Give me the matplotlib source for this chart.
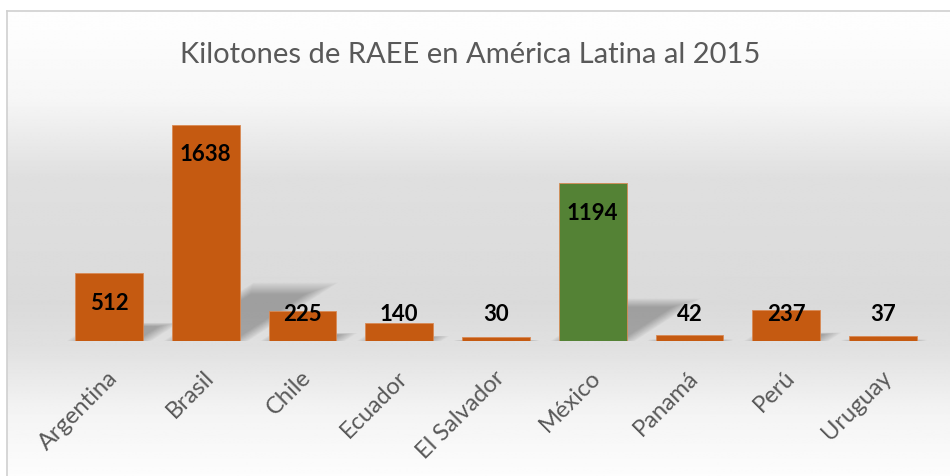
import numpy as np
import matplotlib
matplotlib.use("Agg")
import matplotlib.pyplot as plt
from matplotlib.lines import Line2D
import matplotlib.transforms as mtransforms

# ---- data ----
countries = ["Argentina", "Brasil", "Chile", "Ecuador", "El Salvador",
             "México", "Panamá", "Perú", "Uruguay"]
kilotons = [512, 1638, 225, 140, 30, 1194, 42, 237, 37]
highlight = "México"
title = "Kilotones de RAEE en América Latina al 2015"

ORANGE = "#C55A11"
GREEN = "#548235"
GREY_TXT = "#595959"

W, H = 950, 477
fig = plt.figure(figsize=(W / 100, H / 100), dpi=100)

# ---- background gradient (inside chart border) ----
bg = fig.add_axes([0, 0, 1, 1], zorder=-5)
bg.set_xlim(0, W)
bg.set_ylim(H, 0)
bg.axis("off")
stops_y = [12, 90, 170, 300, 345, 410, 477]
stops_v = [0.995, 0.965, 0.875, 0.855, 0.88, 0.955, 0.99]
ys = np.arange(H)
vals = np.interp(ys, stops_y, stops_v)
img = np.repeat(vals[:, None], 2, axis=1)
bg.imshow(img, cmap="gray", vmin=0, vmax=1, extent=[7, W, H, 12],
          aspect="auto", interpolation="bilinear")
bg.add_line(Line2D([7, W], [12, 12], color="#d0d0d0", lw=1.2))
bg.add_line(Line2D([7, 7], [12, H], color="#d0d0d0", lw=1.2))

# ---- main axes ----
left_px, right_px = 60.6, 931.4
base_px = 342
ymax = 1800
y_scale = 0.132
top_px = base_px - ymax * y_scale
ax = fig.add_axes([left_px / W, (H - base_px) / H,
                   (right_px - left_px) / W, (base_px - top_px) / H])
ax.set_facecolor("none")
ax.set_xlim(-0.5, len(countries) - 0.5)
ax.set_ylim(0, ymax)
for s in ax.spines.values():
    s.set_visible(False)
ax.tick_params(axis="y", left=False, labelleft=False)
ax.tick_params(axis="x", length=0, pad=14)

x = np.arange(len(countries))
bw = 0.70
colors = [GREEN if c == highlight else ORANGE for c in countries]

# perspective shadows (soft)
for i, v in zip(x, kilotons):
    xl, xr = i - bw / 2, i + bw / 2
    s = v * 0.000505
    hk = v * 0.24
    poly = np.array([[xl, 0], [xr, 0], [xr + s, hk], [xl + s, hk]])
    cx, cy = poly.mean(axis=0)
    for f in np.linspace(1.25, 0.8, 12):
        p = poly.copy()
        p[:, 0] = cx + (p[:, 0] - cx) * f
        p[:, 1] = cy + (p[:, 1] - cy) * f
        ax.fill(p[:, 0], p[:, 1], color="black", alpha=0.022, lw=0, zorder=1)

ax.bar(x, kilotons, width=bw, color=colors, edgecolor="#d98a55",
       linewidth=0.6, zorder=2)

for i, v in zip(x, kilotons):
    yl = max(v - 220, 205)
    ax.text(i, yl, f"{v}", ha="center", va="center", fontsize=16,
            fontweight="bold", family="Lato", color="black", zorder=3)

ax.set_xticks(x)
ax.set_xticklabels(countries, rotation=45, ha="right", va="center",
                   rotation_mode="anchor", fontsize=17, family="Lato",
                   color=GREY_TXT)
off = mtransforms.ScaledTranslation(5 / 100, -13 / 100, fig.dpi_scale_trans)
for lab in ax.get_xticklabels():
    lab.set_transform(lab.get_transform() + off)

fig.text(470 / W, 1 - 55 / H, title, ha="center", va="center",
         fontsize=21, family="Lato", color=GREY_TXT)

fig.savefig("out.png", dpi=100)
